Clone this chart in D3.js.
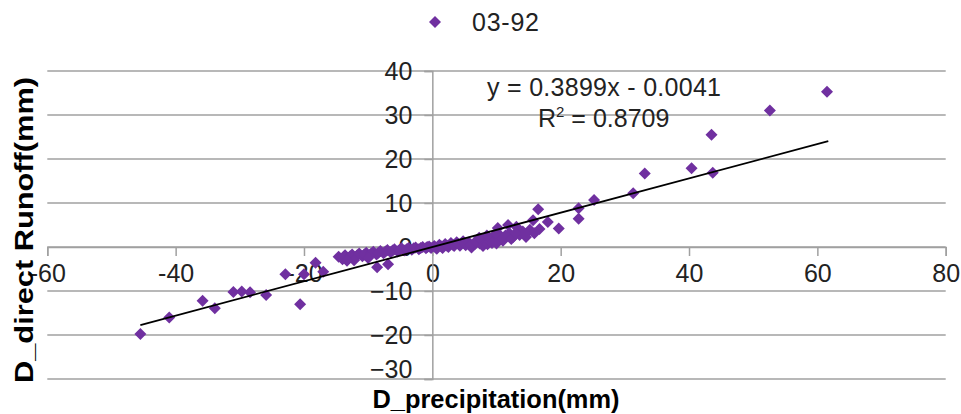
<!DOCTYPE html>
<html><head><meta charset="utf-8">
<script src="https://cdn.jsdelivr.net/npm/d3@7"></script>
<style>body{margin:0;background:#fff}</style>
</head><body>
<svg id="c" width="961" height="414"></svg>
<script>
const seriesName = "03-92";
const xTicks = [-60,-40,-20,0,20,40,60,80];
const yTicks = [-30,-20,-10,0,10,20,30,40];
const slope = 0.3899, intercept = -0.0041;
const trendRange = [-45.5, 61.7];
const eqLabel = "y = 0.3899x - 0.0041";
const r2Value = "0.8709";
const xTitle = "D_precipitation(mm)";
const yTitle = "D_direct Runoff(mm)";

const xs = [-45.5,-41.0,-35.8,-33.9,-31.0,-29.7,-28.4,-25.9,-22.9,-20.6,-20.0,-18.2,-17.0,-14.6,-8.6,-6.9,
 -14.0,-13.6,-13.1,-12.5,-12.0,-11.4,-10.9,-10.3,-9.8,-9.2,-8.7,-8.1,-7.6,-7.0,-6.5,-5.9,-5.4,-4.8,-4.3,-3.7,-3.2,-2.6,-2.1,-1.5,-1.0,-0.5,-0.2,
 -13.8,-12.8,-11.7,-10.6,-9.5,-8.4,-7.3,-6.2,-5.1,-4.0,-2.9,-1.8,-0.8,-12.2,-10.0,-13.3,
 0.3,0.7,1.1,1.6,2.0,2.5,2.9,3.4,3.8,4.3,4.8,5.2,5.7,6.1,6.6,7.0,7.4,7.9,8.2,8.9,9.3,9.7,10.2,10.5,11.0,11.8,12.0,12.6,13.1,13.6,14.1,14.6,15.2,15.7,15.9,16.7,16.5,18.0,19.7,
 0.5,1.4,2.3,3.2,4.1,5.0,5.9,6.8,7.7,8.6,9.0,10.0,10.8,11.4,12.3,13.0,14.4,7.3,8.5,9.9,
 22.8,22.8,25.2,31.3,33.1,40.4,43.7,43.5,52.6,61.5];
const ys = [-19.8,-16.0,-12.2,-13.9,-10.2,-10.1,-10.3,-10.9,-6.2,-13.0,-6.2,-3.6,-5.6,-2.2,-4.6,-3.9,
 -2.8,-1.9,-2.6,-1.7,-2.4,-1.5,-2.1,-1.3,-1.9,-1.1,-1.7,-0.9,-1.4,-0.7,-1.2,-0.5,-1.0,-0.3,-0.8,-0.2,-0.6,-0.1,-0.5,0.0,-0.3,0.1,-0.2,
 -2.2,-2.1,-1.9,-1.7,-1.5,-1.3,-1.0,-0.8,-0.6,-0.5,-0.3,-0.2,0.0,-3.0,-2.5,-3.1,
 0.2,-0.4,0.5,-0.2,0.7,0.0,0.9,0.2,1.1,0.3,1.3,0.4,1.0,-0.1,0.6,1.6,0.8,0.2,1.6,2.0,0.9,1.6,4.3,2.7,1.4,5.0,3.1,2.3,4.6,2.7,3.5,2.3,3.9,6.1,3.1,4.1,8.6,5.7,4.2,
 -0.1,0.1,0.3,0.5,0.7,0.8,0.4,1.2,1.2,0.6,1.3,0.8,2.0,2.6,1.8,3.2,3.0,2.1,2.6,3.0,
 8.8,6.4,10.7,12.2,16.7,17.9,16.9,25.5,31.0,35.3];

const svg = d3.select("#c");
const x = d3.scaleLinear().domain([-60,80]).range([47.3,945.7]);
const y = d3.scaleLinear().domain([-30,40]).range([379,71]);
const purple = "#7030A0", grid = "#a0a0a0";
const font = "'Liberation Sans', Arial, sans-serif";

// gridlines
svg.append("g").selectAll("line").data(yTicks).join("line")
  .attr("x1", x(-60)).attr("x2", x(80))
  .attr("y1", d=>y(d)).attr("y2", d=>y(d))
  .attr("stroke", grid).attr("stroke-width", 1.5);

// x axis at y=0
const xAxis = d3.axisBottom(x).tickValues(xTicks).tickSize(9).tickPadding(8).tickFormat(d3.format("d"));
const gx = svg.append("g").attr("transform", `translate(0,${y(0)})`).call(xAxis);
gx.select(".domain").attr("stroke", grid).attr("stroke-width", 1.5);
gx.selectAll(".tick line").attr("stroke", grid).attr("stroke-width", 1.5);
gx.selectAll(".tick text").attr("font-family", font).attr("font-size", 25).attr("fill", "#222")
  .text(d=>String(d));

// y axis at x=0
const yAxis = d3.axisLeft(y).tickValues(yTicks).tickSize(8).tickPadding(12).tickFormat(d3.format("d"));
const gy = svg.append("g").attr("transform", `translate(${x(0)},0)`).call(yAxis);
gy.select(".domain").attr("stroke", grid).attr("stroke-width", 1.5);
gy.selectAll(".tick line").attr("stroke", grid).attr("stroke-width", 1.5);
gy.selectAll(".tick text").attr("font-family", font).attr("font-size", 25).attr("fill", "#222")
  .attr("dy", d => d === -30 ? "-0.05em" : "0.32em");

// points
const pts = xs.map((v,i)=>({x:v,y:ys[i]}));
const sym = d3.symbol(d3.symbolSquare, 72);
svg.append("g").selectAll("path").data(pts).join("path")
  .attr("d", sym)
  .attr("transform", d=>`translate(${x(d.x)},${y(d.y)}) rotate(45)`)
  .attr("fill", purple);

// trendline
svg.append("line")
  .attr("x1", x(trendRange[0])).attr("y1", y(slope*trendRange[0]+intercept))
  .attr("x2", x(trendRange[1])).attr("y2", y(slope*trendRange[1]+intercept))
  .attr("stroke", "#000").attr("stroke-width", 1.8);

// equation
svg.append("text").attr("x", 487).attr("y", 96).attr("font-family", font).attr("font-size", 25)
  .attr("fill", "#222").attr("textLength", 234).text(eqLabel);
const r2 = svg.append("text").attr("x", 538).attr("y", 127).attr("font-family", font).attr("font-size", 25).attr("fill", "#222");
r2.append("tspan").text("R");
r2.append("tspan").attr("font-size", 15).attr("dy", -10).text("2");
r2.append("tspan").attr("dy", 10).text(" = " + r2Value);

// legend
svg.append("path").attr("d", d3.symbol(d3.symbolSquare, 72)).attr("transform", "translate(435,22) rotate(45)").attr("fill", purple);
svg.append("text").attr("x", 472).attr("y", 31).attr("font-family", font).attr("font-size", 25).attr("fill", "#222")
  .attr("textLength", 67).text(seriesName);

// axis titles
svg.append("text").attr("x", 496).attr("y", 408).attr("text-anchor", "middle")
  .attr("font-family", font).attr("font-weight", "bold").attr("font-size", 25).attr("fill", "#000")
  .attr("textLength", 247).attr("lengthAdjust", "spacingAndGlyphs").text(xTitle);
svg.append("text").attr("transform", "translate(33,230) rotate(-90)").attr("text-anchor", "middle")
  .attr("font-family", font).attr("font-weight", "bold").attr("font-size", 25).attr("fill", "#000")
  .attr("textLength", 306).attr("lengthAdjust", "spacingAndGlyphs").text(yTitle);
</script>
</body></html>
